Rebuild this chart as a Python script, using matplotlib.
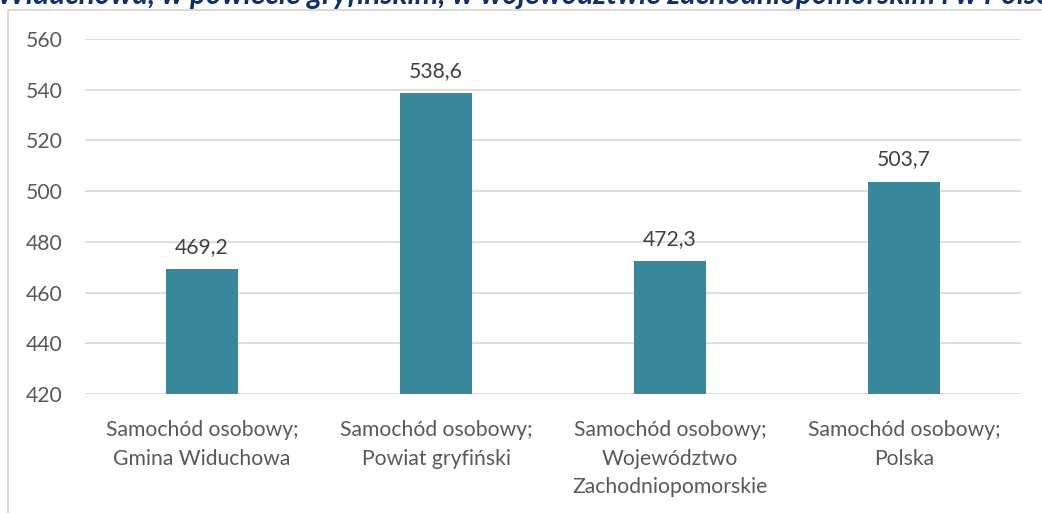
import matplotlib.pyplot as plt
from matplotlib.patches import Rectangle

categories = ["Samochód osobowy;\nGmina Widuchowa",
              "Samochód osobowy;\nPowiat gryfiński",
              "Samochód osobowy;\nWojewództwo\nZachodniopomorskie",
              "Samochód osobowy;\nPolska"]
values = [469.2, 538.6, 472.3, 503.7]
yticks = [420, 440, 460, 480, 500, 520, 540, 560]
title = "Widuchowa, w powiecie gryfińskim, w województwie zachodniopomorskim i w Polsce"

plt.rcParams['font.family'] = ['Lato', 'DejaVu Sans']
txt = '#595959'

fig = plt.figure(figsize=(10.42, 5.13), dpi=100)
# chart frame
fig.patches.append(Rectangle((8 / 1042, -0.1), 1.2, (513 - 10) / 513 + 0.1,
                             transform=fig.transFigure, fill=False,
                             edgecolor='#d9d9d9', lw=1.5))
# cut off title line from the document above the chart
t = fig.text(-0.003, 1.0 - 4 / 513, title, color='#0f2f6e', fontsize=17,
             fontweight='bold', fontstyle='italic', ha='left', va='baseline')
# stretch it to about the width seen in the reference
r = fig.canvas.get_renderer()
w = t.get_window_extent(r).width
t.set_fontsize(17 * 1065 / w)

ax = fig.add_axes([85 / 1042, 1 - 394 / 513, (1021 - 85) / 1042, (394 - 39) / 513])
x = range(len(values))
ax.bar(x, values, width=0.31, color='#38879a', zorder=3)
ax.set_ylim(420, 560)
ax.set_xlim(-0.5, len(values) - 0.5)
ax.set_yticks(yticks)
ax.set_xticks(list(x))
ax.set_xticklabels(categories, linespacing=1.52)
ax.grid(axis='y', color='#d9d9d9', lw=1.2, zorder=0)
for s in ax.spines.values():
    s.set_visible(False)
ax.tick_params(length=0, labelsize=15.2, colors=txt, pad=19)
ax.tick_params(axis='y', pad=16)
for i, v in enumerate(values):
    ax.annotate(("%.1f" % v).replace('.', ','), (i, v), xytext=(0, 9),
                textcoords='offset points', ha='center', va='bottom',
                fontsize=15.2, color='#404040')

fig.savefig('out.png', dpi=100)
